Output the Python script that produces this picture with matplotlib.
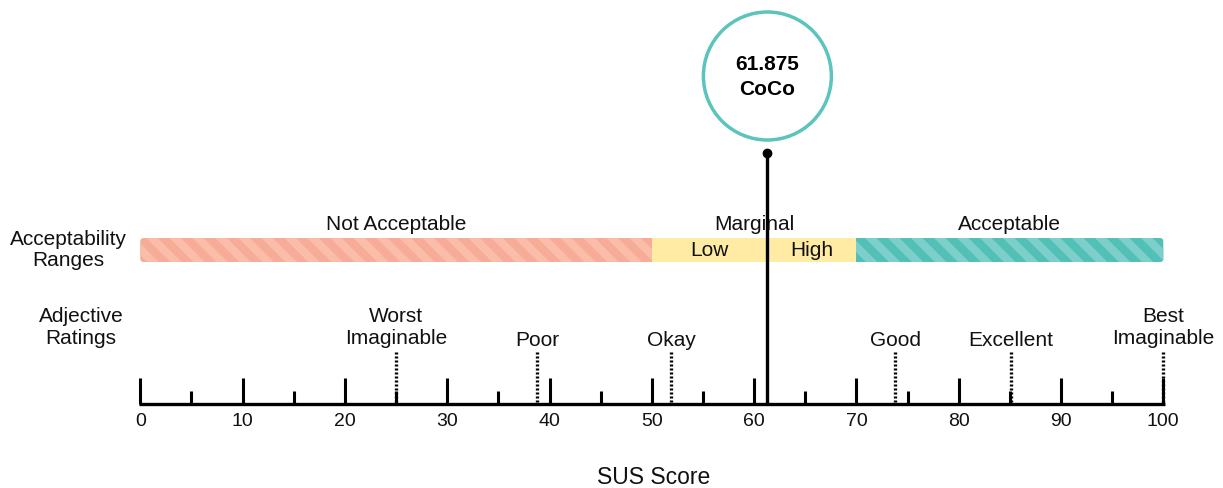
import numpy as np
import matplotlib.pyplot as plt
from matplotlib.patches import FancyBboxPatch, Rectangle, Polygon, Ellipse

plt.rcParams['font.family'] = ['Liberation Sans', 'DejaVu Sans']

# data
score_text = "61.875"
score_name = "CoCo"
score_pos = 61.3          # where the marker line sits on the scale
range_names = ["Not Acceptable", "Marginal", "Acceptable"]
range_lo = [0, 50, 70]
range_hi = [50, 70, 100]
sub_names = ["Low", "High"]
sub_lo = [50, 61.3]
sub_hi = [61.3, 70]
adj_names = ["Worst\nImaginable", "Poor", "Okay", "Good", "Excellent", "Best\nImaginable"]
adj_pos = [25, 38.8, 51.9, 73.8, 85.1, 100]
major = np.arange(0, 101, 10)
minor = np.arange(5, 100, 10)

W, H = 1223, 488
x0, pxu = 140.3, 10.23     # pixel of 0 and pixels per unit
fig = plt.figure(figsize=(W/100, H/100), dpi=100)
ax = fig.add_axes([0, 0, 1, 1])
ax.set_xlim(-x0/pxu, (W - x0)/pxu)
ax.set_ylim(H, 0)
ax.axis('off')

txt = '#111111'
fs = 15
red, red_l = '#F6AC96', '#F9BDAA'
teal, teal_l = '#53C0B8', '#7DCFCA'
yellow = '#FFEBA4'

# acceptability bar
top, bot = 238, 262
bh = bot - top

def striped(lo, hi, base, light, z):
    p = FancyBboxPatch((lo, top), hi - lo, bh,
                       boxstyle="round,pad=0,rounding_size=0.3",
                       mutation_aspect=10, fc=base, ec='none', zorder=z)
    ax.add_patch(p)
    s = x0 + lo*pxu - 40
    while s < x0 + hi*pxu + 10:
        pts = [((s - x0)/pxu, top), ((s + 11.5 - x0)/pxu, top),
               ((s + 11.5 + bh - x0)/pxu, bot), ((s + bh - x0)/pxu, bot)]
        st = Polygon(pts, closed=True, fc=light, ec='none', zorder=z + 0.1)
        ax.add_patch(st)
        st.set_clip_path(p)
        s += 23

striped(range_lo[0], range_hi[0] + 2, red, red_l, 1)
striped(range_lo[2] - 2, range_hi[2], teal, teal_l, 1)
ax.add_patch(Rectangle((range_lo[1], top), range_hi[1] - range_lo[1], bh,
                       fc=yellow, ec='none', zorder=2))

for name, lo, hi in zip(range_names, range_lo, range_hi):
    ax.text((lo + hi)/2, 224, name, ha='center', va='center', fontsize=fs, color=txt)
for name, lo, hi in zip(sub_names, sub_lo, sub_hi):
    ax.text((lo + hi)/2, 250, name, ha='center', va='center', fontsize=fs, color=txt, zorder=3)

ax.text(-7.0, 250, "Acceptability\nRanges", ha='center', va='center', fontsize=fs,
        color=txt, linespacing=1.15)
ax.text(-5.8, 327.5, "Adjective\nRatings", ha='center', va='center', fontsize=fs,
        color=txt, linespacing=1.2)

# scale
base_y = 404
ax.hlines(base_y, -0.12, 100.12, color='k', lw=2.4, zorder=4)
ax.vlines(major, 378, base_y, color='k', lw=2.2, zorder=4)
ax.vlines(minor, 391, base_y, color='k', lw=2.2, zorder=4)
for m in major:
    ax.text(m, 421, str(m), ha='center', va='center', fontsize=14, color=txt)
ax.text(50.2, 477, "SUS Score", ha='center', va='center', fontsize=16.5, color=txt)

# adjective ratings
for name, p in zip(adj_names, adj_pos):
    ax.vlines(p, 352, base_y, color='k', lw=2.4, linestyles=(0, (0.6, 0.6)), zorder=4)
    ax.text(p, 327.5 if '\n' in name else 340, name, ha='center', va='center',
            fontsize=fs, color=txt, linespacing=1.2)

# score marker
ax.vlines(score_pos, 153, base_y, color='k', lw=2.4, zorder=5)
ax.plot([score_pos], [153], 'o', color='k', ms=6, zorder=5)
ax.add_patch(Ellipse((score_pos, 76), 2*64/pxu, 2*64, fc='white', ec='#5BC4BD', lw=2.5, zorder=5))
ax.text(score_pos, 77, score_text + "\n" + score_name, ha='center', va='center',
        fontsize=15, fontweight='bold', color='k', linespacing=1.35, zorder=6)

fig.savefig('out.png', dpi=100)
